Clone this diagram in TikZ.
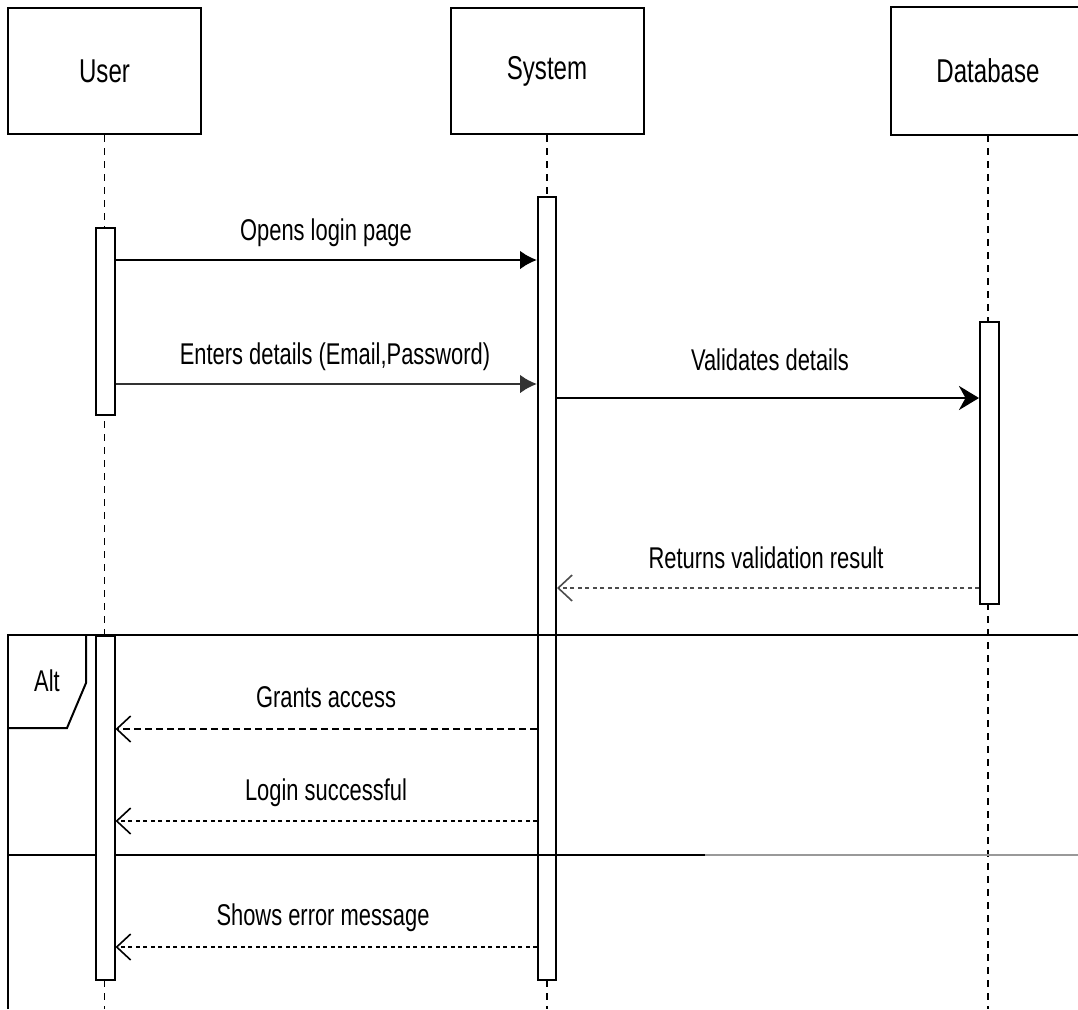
\documentclass[tikz,border=0pt]{standalone}
\usepackage{fontspec}
\setmainfont{Liberation Sans}[FakeStretch=0.73]
\usetikzlibrary{arrows.meta}
\usetikzlibrary{positioning}

\begin{document}
\begin{tikzpicture}[x=1pt, y=-1pt, >=Latex,
	actor/.style={draw, line width=2pt, fill=white, minimum width=193, minimum height=126, font=\fontsize{33}{38}\selectfont},
	act/.style={draw, line width=2pt, fill=white, minimum width=19, inner sep=0pt},
	lifeline/.style={line width=1.3pt, dash pattern=on 7pt off 6pt},
	lbl/.style={inner sep=0pt, font=\fontsize{30}{34}\selectfont},
	call/.style={line width=2.8pt, -{Latex[length=17,width=19]}},
	ret/.style={line width=2.8pt, dash pattern=on 4pt off 3.5pt, -{Straight Barb[length=14,width=26,line width=1.6pt]}},
	retdash/.style={ret, dash pattern=on 7pt off 4pt}]
	\def\Bottom{1009}
	\def\FrameLeft{8}
	\def\FrameRight{1078}
	\useasboundingbox (0,0) rectangle (1078,1009);
	\clip (0,0) rectangle (1078,1009);
	%%%%%%%%%%%%%%%%%%%%%%%%%%%%%%%%%%%%%%%%%%%%%%%%%%%%%%%%%%
	% participants
	\node[actor] (user) at (104.5,71) {User};
	\node[actor] (system) at (547,71) {System};
	\node[actor, draw=none] (database) at (988,71) {Database};
	% database box runs off the right edge
	\draw[line width=2pt] (database.north east) -- (database.north west) -- (database.south west) -- (database.south east);
	
	% lifelines
	\draw[lifeline] (user.south) -- (user.south |- 0,\Bottom);
	\draw[lifeline] (system.south) -- (system.south |- 0,\Bottom);
	\draw[lifeline] (database.south) -- (database.south |- 0,\Bottom);
	
	% activation bars
	\node[act, minimum height=187] (ua) at (105,321.5) {};
	\node[act, minimum height=783, minimum width=18] (sa) at (547,588.5) {};
	\node[act, minimum height=282] (da) at (989.5,463) {};
	%%%%%%%%%%%%%%%%%%%%%%%%%%%%%%%%%%%%%%%%%%%%%%%%%%%%%%%%%%
	% alt frame
	\draw[line width=2pt] (\FrameLeft,\Bottom) -- (\FrameLeft,635) -- (\FrameRight,635);
	\draw[line width=2pt] (86,635) -- (86,683) -- (67,728) -- (\FrameLeft,728);
	\node[lbl] (alt) at (47,681) {Alt};
	\draw[line width=2pt] (\FrameLeft,855) -- (705,855);
	\draw[line width=2.4pt, gray!80] (705,855) -- (\FrameRight,855);
	
	\node[act, minimum height=344] (ub) at (105,808) {};
	%%%%%%%%%%%%%%%%%%%%%%%%%%%%%%%%%%%%%%%%%%%%%%%%%%%%%%%%%%
	% messages
	\draw[call] (ua.east |- 0,260) -- (sa.west |- 0,260);
	\node[lbl] (m1) at (326,233) {Opens login page};
	
	\draw[call, draw=black!80] (ua.east |- 0,384) -- (sa.west |- 0,384);
	\node[lbl] (m2) at (335,357) {Enters details (Email,Password)};
	
	\draw[line width=2.8pt, -{Stealth[length=20,width=24]}] (sa.east |- 0,398) -- (da.west |- 0,398);
	\node[lbl] (m3) at (770,360) {Validates details};
	
	\draw[ret, draw=black!70] (da.west |- 0,588) -- (sa.east |- 0,588);
	\node[lbl] (m4) at (766,558) {Returns validation result};
	
	% success
	\draw[retdash] (sa.west |- 0,729) -- (ub.east |- 0,729);
	\node[lbl] (m5) at (326,697) {Grants access};
	
	\draw[ret] (sa.west |- 0,821) -- (ub.east |- 0,821);
	\node[lbl] (m6) at (326,793) {Login successful};
	
	% failure
	\draw[ret] (sa.west |- 0,947) -- (ub.east |- 0,947);
	\node[lbl] (m7) at (323,918) {Shows error message};
	
\end{tikzpicture}
\end{document}
